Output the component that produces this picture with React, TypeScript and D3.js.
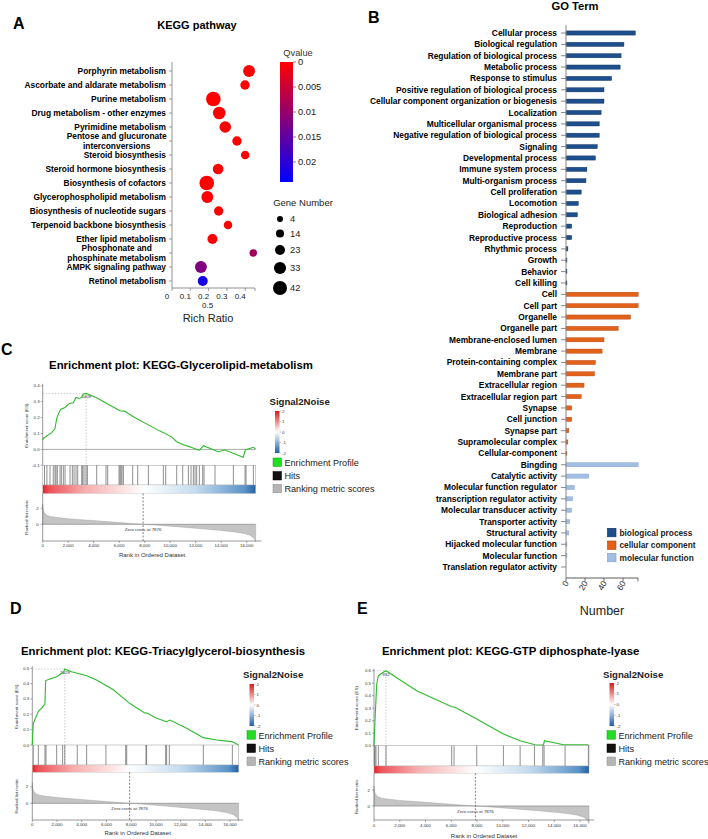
import React from 'react';
import * as d3 from 'd3';

const FONT = "'Liberation Sans', Arial, Helvetica, sans-serif";

/* ---------------- Panel A data ---------------- */
const keggPathways = [
  'Porphyrin metabolism',
  'Ascorbate and aldarate metabolism',
  'Purine metabolism',
  'Drug metabolism - other enzymes',
  'Pyrimidine metabolism',
  'Pentose and glucuronate\ninterconversions',
  'Steroid biosynthesis',
  'Steroid hormone biosynthesis',
  'Biosynthesis of cofactors',
  'Glycerophospholipid metabolism',
  'Biosynthesis of nucleotide sugars',
  'Terpenoid backbone biosynthesis',
  'Ether lipid metabolism',
  'Phosphonate and\nphosphinate metabolism',
  'AMPK signaling pathway',
  'Retinol metabolism',
];
const keggRichRatio = [0.421, 0.399, 0.226, 0.258, 0.291, 0.355, 0.4, 0.252, 0.19, 0.193, 0.255, 0.306, 0.221, 0.444, 0.158, 0.168];
const keggGeneNumber = [32, 20, 45, 35, 30, 20, 16, 26, 45, 32, 20, 16, 23, 11, 32, 23];
const keggQvalue = [0, 0, 0, 0, 0, 0, 0, 0, 0, 0, 0, 0, 0, 0.009, 0.012, 0.022];
const keggXTicks = [0, 0.1, 0.2, 0.3, 0.4];
const keggXTickExtra = 0.5;
const qvalueTicks = [0, 0.005, 0.01, 0.015, 0.02];
const geneLegend = [4, 14, 23, 33, 42];

/* ---------------- Panel B data ---------------- */
const goTerms = [
  'Cellular process', 'Biological regulation', 'Regulation of biological process', 'Metabolic process',
  'Response to stimulus', 'Positive regulation of biological process', 'Cellular component organization or biogenesis',
  'Localization', 'Multicellular organismal process', 'Negative regulation of biological process', 'Signaling',
  'Developmental process', 'Immune system process', 'Multi-organism process', 'Cell proliferation', 'Locomotion',
  'Biological adhesion', 'Reproduction', 'Reproductive process', 'Rhythmic process', 'Growth', 'Behavior', 'Cell killing',
  'Cell', 'Cell part', 'Organelle', 'Organelle part', 'Membrane-enclosed lumen', 'Membrane', 'Protein-containing complex',
  'Membrane part', 'Extracellular region', 'Extracellular region part', 'Synapse', 'Cell junction', 'Synapse part',
  'Supramolecular complex', 'Cellular-component',
  'Bingding', 'Catalytic activity', 'Molecular function regulator', 'transcription regulator activity',
  'Molecular transducer activity', 'Transporter activity', 'Structural activity', 'Hijacked molecular function',
  'Molecular function', 'Translation regulator activity',
];
const goCounts = [
  73, 61, 58, 57, 48, 40, 40, 37, 35, 35, 33, 31, 22, 21, 16, 13, 12, 6, 6, 2, 1, 1, 1,
  76, 76, 68, 55, 40, 38, 31, 30, 19, 16, 6, 6, 3, 2, 1,
  76, 24, 9, 7, 6, 4, 3, 1, 1, 0,
];
const goCategory = [
  0, 0, 0, 0, 0, 0, 0, 0, 0, 0, 0, 0, 0, 0, 0, 0, 0, 0, 0, 0, 0, 0, 0,
  1, 1, 1, 1, 1, 1, 1, 1, 1, 1, 1, 1, 1, 1, 1,
  2, 2, 2, 2, 2, 2, 2, 2, 2, 2,
];
const goCategoryNames = ['biological process', 'cellular component', 'molecular function'];
const goXTicks = [0, 20, 40, 60];

/* ---------------- GSEA data ---------------- */
const rankTicks = [0, 2000, 4000, 6000, 8000, 10000, 12000, 14000, 16000];
const totalRanks = 16700;
const zeroCrossRank = 7876;
const rankedMetric: [number, number][] = [
  [0, 2.5], [30, 2.0], [100, 1.5], [300, 1.15], [600, 0.98], [1000, 0.88], [2000, 0.7], [3000, 0.58],
  [4000, 0.46], [5000, 0.34], [6000, 0.23], [7000, 0.1], [7876, 0], [9000, -0.12], [10000, -0.24],
  [11000, -0.36], [12000, -0.5], [13000, -0.63], [14000, -0.78], [15000, -0.95], [15800, -1.15],
  [16300, -1.4], [16600, -1.8], [16700, -2.2],
];
const esGlycerolipid: [number, number][] = [
  [0, 0.059], [50, 0.069], [310, 0.084], [700, 0.105], [960, 0.13], [1100, 0.195], [1300, 0.237],
  [1410, 0.251], [1750, 0.264], [2090, 0.289], [2400, 0.293], [2610, 0.327], [2870, 0.32], [3060, 0.327],
  [3190, 0.348], [3409, 0.352], [4230, 0.325], [5020, 0.289], [6060, 0.243], [6450, 0.239], [7110, 0.205],
  [8420, 0.148], [9200, 0.115], [10110, 0.079], [10510, 0.048], [10980, 0.031], [11550, 0.016],
  [12080, 0.0], [12300, -0.005], [12600, 0.023], [13770, -0.015], [14300, -0.004], [15730, -0.05],
  [15890, -0.004], [16520, 0.013], [16700, 0.002],
];
const hitsGlycerolipid = [
  140, 330, 574, 830, 966, 1045, 1150, 1359, 1463, 1620, 1751, 2143, 2326, 2457, 2614, 2745, 3058, 3137,
  3241, 3398, 3503, 4235, 4967, 5098, 5987, 6065, 6143, 6222, 6327, 7058, 7451, 8288, 9464, 9647, 10510,
  10980, 11425, 11634, 11817, 11948, 12078, 12288, 12549, 12653, 13516, 14954, 15869, 15948, 16523,
];
const esTriacylglycerol: [number, number][] = [
  [0, 0], [80, 0.14], [490, 0.22], [755, 0.24], [1025, 0.267], [1080, 0.42], [1430, 0.43], [1970, 0.445],
  [2375, 0.467], [2510, 0.47], [2629, 0.495], [3180, 0.478], [4400, 0.452], [5200, 0.424], [6560, 0.36],
  [7900, 0.27], [9120, 0.207], [9250, 0.21], [10060, 0.174], [10870, 0.152], [11140, 0.163],
  [12490, 0.109], [13840, 0.048], [14920, 0.033], [16140, 0.022], [16700, 0],
];
const hitsTriacylglycerol = [
  80, 490, 1025, 1110, 1970, 2455, 2629, 3640, 4400, 5960, 7560, 7640, 9200, 9250, 10790, 10870, 11090,
  13840, 16190,
];
const esGtp: [number, number][] = [
  [0, 0], [78, 0.2], [207, 0.49], [337, 0.56], [596, 0.58], [932, 0.6], [3316, 0.44], [6036, 0.312],
  [6295, 0.307], [7980, 0.213], [10050, 0.093], [11350, 0.04], [12510, 0.008], [13160, 0.005],
  [13240, 0.04], [14720, 0.008], [16600, 0.008], [16700, 0],
];
const hitsGtp = [20, 78, 155, 337, 932, 6036, 6218, 7980, 10050, 11350, 12460, 13110, 13210, 14840, 16650];
const gseaLegendItems = ['Enrichment Profile', 'Hits', 'Ranking metric scores'];
const signalTicks = [2, 1, 0, -1, -2];

/* ---------------- Panel A ---------------- */
function PanelA() {
  const y = d3.scalePoint<string>().domain(keggPathways).range([71, 281]);
  const x = d3.scaleLinear().domain([0, 0.5]).range([172, 263.5]);
  const r = d3.scaleLinear().domain([4, 42]).range([3, 7]);
  const qColor = d3.scaleLinear<string>().domain([0, 0.024]).range(['#ff0000', '#0000ff']).interpolate(d3.interpolateRgb);
  const qY = d3.scaleLinear().domain([0, 0.024]).range([62, 182]);
  const legendY = [219, 233.5, 250, 268, 288];
  return (
    <g>
      <defs>
        <linearGradient id="qgrad" x1="0" y1="0" x2="0" y2="1">
          {d3.range(0, 1.0001, 0.1).map((t) => (
            <stop key={t} offset={t} stopColor={qColor(t * 0.024)} />
          ))}
        </linearGradient>
      </defs>
      <text x={13} y={28.5} fontSize={16} fontWeight="bold">A</text>
      <text x={197} y={28.5} fontSize={11} fontWeight="bold" textAnchor="middle">KEGG pathway</text>
      <line x1={172} x2={172} y1={62} y2={288} stroke="#777" strokeWidth={0.8} />
      {keggPathways.map((p) => {
        const yy = y(p)!;
        const lines = p.split('\n');
        return (
          <g key={p}>
            <line x1={169} x2={172} y1={yy} y2={yy} stroke="#777" strokeWidth={0.7} />
            {lines.length === 1 ? (
              <text x={166} y={yy + 3} fontSize={8.4} fontWeight="bold" textAnchor="end">{p}</text>
            ) : (
              lines.map((l, i) => (
                <text key={l} x={116.7} y={yy - 4.8 + i * 10 + 3} fontSize={8.4} fontWeight="bold" textAnchor="middle">{l}</text>
              ))
            )}
          </g>
        );
      })}
      <line x1={172} x2={255} y1={288} y2={288} stroke="#777" strokeWidth={0.8} />
      {keggXTicks.map((t) => (
        <g key={t}>
          <line x1={x(t)} x2={x(t)} y1={288} y2={291} stroke="#777" strokeWidth={0.7} />
          <text x={x(t) - 5} y={298.5} fontSize={8} textAnchor="middle" fill="#222">{String(t)}</text>
        </g>
      ))}
      <line x1={255} x2={255} y1={288} y2={291} stroke="#777" strokeWidth={0.7} />
      <text x={x(0.2) - 1} y={308} fontSize={8} textAnchor="middle" fill="#222">{String(keggXTickExtra)}</text>
      <text x={208} y={321.5} fontSize={11} textAnchor="middle" fill="#222">Rich Ratio</text>
      {keggPathways.map((p, i) => (
        <circle key={p} cx={x(keggRichRatio[i])} cy={y(p)!} r={r(keggGeneNumber[i])} fill={qColor(keggQvalue[i])} />
      ))}
      {/* colorbar */}
      <text x={298} y={55.5} fontSize={9.3} textAnchor="middle" fill="#333">Qvalue</text>
      <rect x={280} y={62} width={13} height={120} fill="url(#qgrad)" />
      {qvalueTicks.map((t) => (
        <g key={t}>
          <line x1={293} x2={296} y1={qY(t)} y2={qY(t)} stroke="#555" strokeWidth={0.7} />
          <text x={298} y={qY(t) + 3.3} fontSize={9.3} fill="#222">{String(t)}</text>
        </g>
      ))}
      <text x={303} y={206} fontSize={9.5} textAnchor="middle" fill="#222">Gene Number</text>
      {geneLegend.map((g, i) => (
        <g key={g}>
          <circle cx={280} cy={legendY[i]} r={r(g)} fill="#000" />
          <text x={290} y={legendY[i] + 3.3} fontSize={9.3} fill="#222">{String(g)}</text>
        </g>
      ))}
    </g>
  );
}

/* ---------------- Panel B ---------------- */
function PanelB() {
  const y = d3.scalePoint<string>().domain(goTerms).range([33, 567]);
  const x = d3.scaleLinear().domain([0, 60]).range([566, 623]);
  const fills = ['#1d4f8c', '#e2611b', '#a3bee3'];
  const strokes = ['#0d2c5a', '#b0420e', '#7f9fcc'];
  const legY = [528.3, 541, 553.3];
  return (
    <g>
      <text x={368} y={23} fontSize={16} fontWeight="bold">B</text>
      <text x={575} y={9.5} fontSize={11.2} fontWeight="bold" textAnchor="middle">GO Term</text>
      {goTerms.map((t, i) => {
        const yy = y(t)!;
        const c = goCategory[i];
        return (
          <g key={t}>
            <line x1={561} x2={566} y1={yy} y2={yy} stroke="#555" strokeWidth={0.7} />
            <text x={557} y={yy + 3} fontSize={8.4} fontWeight="bold" textAnchor="end">{t}</text>
            {goCounts[i] > 0 && (
              <rect x={x(0)} y={yy - 2.1} width={x(goCounts[i]) - x(0)} height={4.2} fill={fills[c]} stroke={strokes[c]} strokeWidth={0.4} />
            )}
          </g>
        );
      })}
      <line x1={566} x2={566} y1={25} y2={578} stroke="#888" strokeWidth={1} />
      <line x1={566} x2={638} y1={578} y2={578} stroke="#333" strokeWidth={0.8} />
      {goXTicks.map((t) => (
        <g key={t}>
          <line x1={x(t)} x2={x(t)} y1={578} y2={581.5} stroke="#333" strokeWidth={0.7} />
          <text transform={`translate(${x(t) + 3},${583}) rotate(-60)`} fontSize={8.3} textAnchor="end" fill="#222">{String(t)}</text>
        </g>
      ))}
      <line x1={638} x2={638} y1={578} y2={581.5} stroke="#333" strokeWidth={0.7} />
      <text x={602} y={614.5} fontSize={12.5} textAnchor="middle" fill="#222">Number</text>
      {goCategoryNames.map((n, i) => (
        <g key={n}>
          <rect x={607.5} y={legY[i]} width={8.5} height={8.5} fill={fills[i]} stroke={strokes[i]} strokeWidth={0.6} />
          <text x={619.5} y={legY[i] + 7.3} fontSize={8.3} fontWeight="bold" fill="#222">{n}</text>
        </g>
      ))}
    </g>
  );
}

/* ---------------- GSEA panels ---------------- */
type GseaCfg = {
  id: string; letter: string; letterX: number; letterY: number;
  title: string; titleX: number; titleY: number; titleAnchor: 'start' | 'middle';
  x0: number; x16: number; axisEnd: number;
  esDomain: [number, number]; esTop: number; esBottom: number; esTicks: number[];
  hitsBottom: number; gradBottom: number; rankZeroY: number; rankPx: number; rankBottom: number;
  tickLabelY: number; axisTitleY: number; yLabelOffset: number;
  es: [number, number][]; hits: number[];
  legTitleX: number; legTitleY: number; barX: number; barTop: number; barBottom: number;
  sqX: number; sqY: number[]; textX: number;
};

function Gsea({ c }: { c: GseaCfg }) {
  const x = d3.scaleLinear().domain([0, 16000]).range([c.x0, c.x16]);
  const yES = d3.scaleLinear().domain(c.esDomain).range([c.esBottom, c.esTop]);
  const yR = (v: number) => c.rankZeroY - v * c.rankPx;
  const line = d3.line<[number, number]>().x((d) => x(d[0])).y((d) => yES(d[1]));
  const area = d3.area<[number, number]>().x((d) => x(d[0])).y0(c.rankZeroY).y1((d) => yR(d[1]));
  const peak = c.es[d3.maxIndex(c.es, (d) => d[1])];
  const dataEnd = x(totalRanks);
  const fmt = d3.format(',');
  const tiny = 4.4;
  const legColors = ['#22dd22', '#111111', '#b5b5b5'];
  const legStroke = ['#129912', '#000', '#8a8a8a'];
  const sigY = d3.scaleLinear().domain([2, -2]).range([c.barTop, c.barBottom]);
  return (
    <g>
      <defs>
        <linearGradient id={`hg${c.id}`} x1="0" y1="0" x2="1" y2="0">
          <stop offset="0" stopColor="#e0232a" />
          <stop offset="0.03" stopColor="#ec5257" />
          <stop offset="0.2" stopColor="#f6aeae" />
          <stop offset={zeroCrossRank / totalRanks} stopColor="#ffffff" />
          <stop offset="0.72" stopColor="#c4dbee" />
          <stop offset="0.95" stopColor="#5b93c8" />
          <stop offset="1" stopColor="#2461a5" />
        </linearGradient>
        <linearGradient id={`vg${c.id}`} x1="0" y1="0" x2="0" y2="1">
          <stop offset="0" stopColor="#d7191c" />
          <stop offset="0.5" stopColor="#ffffff" />
          <stop offset="1" stopColor="#1f5fa8" />
        </linearGradient>
      </defs>
      <text x={c.letterX} y={c.letterY} fontSize={16} fontWeight="bold">{c.letter}</text>
      <text x={c.titleX} y={c.titleY} fontSize={11.4} fontWeight="bold" textAnchor={c.titleAnchor}>{c.title}</text>

      {/* ES plot */}
      <line x1={c.x0} x2={c.x0} y1={c.esTop - 2} y2={c.esBottom} stroke="#555" strokeWidth={0.6} />
      {c.esTicks.map((t) => (
        <g key={t}>
          <line x1={c.x0 - 2} x2={c.x0} y1={yES(t)} y2={yES(t)} stroke="#555" strokeWidth={0.5} />
          <text x={c.x0 - 3} y={yES(t) + 1.5} fontSize={tiny} textAnchor="end" fill="#333">{t.toFixed(1)}</text>
        </g>
      ))}
      {c.esDomain[0] < 0 && (
        <line x1={c.x0} x2={dataEnd} y1={yES(0)} y2={yES(0)} stroke="#888" strokeWidth={0.7} />
      )}
      <line x1={c.x0} x2={x(peak[0])} y1={yES(peak[1])} y2={yES(peak[1])} stroke="#aaa" strokeWidth={0.6} strokeDasharray="1.5,1.5" />
      <line x1={x(peak[0])} x2={x(peak[0])} y1={yES(peak[1])} y2={c.hitsBottom} stroke="#aaa" strokeWidth={0.6} strokeDasharray="1.5,1.5" />
      <text x={x(peak[0])} y={yES(peak[1]) + 5} fontSize={tiny} textAnchor="middle" fill="#333">{String(peak[0])}</text>
      <text transform={`translate(${c.x0 - c.yLabelOffset},${(c.esTop + c.esBottom) / 2}) rotate(-90)`} fontSize={tiny} textAnchor="middle" fill="#333">Enrichment score (ES)</text>
      <path d={line(c.es)!} fill="none" stroke="#2dbb2d" strokeWidth={1.1} />

      {/* hits */}
      <rect x={c.x0} y={c.esBottom} width={dataEnd - c.x0} height={c.hitsBottom - c.esBottom} fill="none" stroke="#aaa" strokeWidth={0.6} />
      {c.hits.map((h) => (
        <line key={h} x1={x(h)} x2={x(h)} y1={c.esBottom} y2={c.hitsBottom} stroke="#444" strokeWidth={0.6} />
      ))}
      <rect x={c.x0} y={c.hitsBottom} width={dataEnd - c.x0} height={c.gradBottom - c.hitsBottom} fill={`url(#hg${c.id})`} stroke="#bbb" strokeWidth={0.3} />

      {/* ranked list */}
      <path d={area(rankedMetric)!} fill="#c4c4c4" stroke="#999" strokeWidth={0.4} />
      <line x1={c.x0} x2={dataEnd} y1={c.rankZeroY} y2={c.rankZeroY} stroke="#888" strokeWidth={0.5} />
      <line x1={c.x0} x2={c.x0} y1={c.gradBottom} y2={c.rankBottom} stroke="#555" strokeWidth={0.6} />
      {[0, 2].map((t) => (
        <g key={t}>
          <line x1={c.x0 - 2} x2={c.x0} y1={yR(t)} y2={yR(t)} stroke="#555" strokeWidth={0.5} />
          <text x={c.x0 - 4} y={yR(t) + 1.5} fontSize={tiny} textAnchor="end" fill="#333">{String(t)}</text>
        </g>
      ))}
      <text transform={`translate(${c.x0 - c.yLabelOffset},${(c.gradBottom + c.rankBottom) / 2}) rotate(-90)`} fontSize={tiny} textAnchor="middle" fill="#333">Ranked list metric</text>
      <line x1={x(zeroCrossRank)} x2={x(zeroCrossRank)} y1={c.gradBottom} y2={c.rankBottom} stroke="#333" strokeWidth={0.6} strokeDasharray="2,1.5" />
      <text x={x(zeroCrossRank)} y={c.rankZeroY + 6.5} fontSize={tiny} textAnchor="middle" fill="#333">{`Zero cross at ${zeroCrossRank}`}</text>

      {/* bottom axis */}
      <line x1={c.x0} x2={c.axisEnd} y1={c.rankBottom} y2={c.rankBottom} stroke="#555" strokeWidth={0.6} />
      {rankTicks.map((t) => (
        <g key={t}>
          <line x1={x(t)} x2={x(t)} y1={c.rankBottom} y2={c.rankBottom + 2} stroke="#555" strokeWidth={0.5} />
          <text x={x(t)} y={c.tickLabelY} fontSize={tiny} textAnchor="middle" fill="#333">{fmt(t)}</text>
        </g>
      ))}
      <text x={(c.x0 + c.axisEnd) / 2} y={c.axisTitleY} fontSize={6} textAnchor="middle" fill="#333">Rank in Ordered Dataset</text>

      {/* legend */}
      <text x={c.legTitleX} y={c.legTitleY} fontSize={9.6} fontWeight="bold" fill="#222">Signal2Noise</text>
      <rect x={c.barX} y={c.barTop} width={4.5} height={c.barBottom - c.barTop} fill={`url(#vg${c.id})`} />
      {signalTicks.map((t) => (
        <g key={t}>
          <line x1={c.barX + 4.5} x2={c.barX + 6} y1={sigY(t)} y2={sigY(t)} stroke="#555" strokeWidth={0.4} />
          <text x={c.barX + 7} y={sigY(t) + 1.6} fontSize={tiny} fill="#333">{String(t)}</text>
        </g>
      ))}
      {gseaLegendItems.map((n, i) => (
        <g key={n}>
          <rect x={c.sqX} y={c.sqY[i]} width={8.5} height={8.5} fill={legColors[i]} stroke={legStroke[i]} strokeWidth={0.5} />
          <text x={c.textX} y={c.sqY[i] + 7.8} fontSize={9.1} fill="#222">{n}</text>
        </g>
      ))}
    </g>
  );
}

const cfgC: GseaCfg = {
  id: 'C', letter: 'C', letterX: 1, letterY: 354.5,
  title: 'Enrichment plot: KEGG-Glycerolipid-metabolism', titleX: 181, titleY: 368.5, titleAnchor: 'middle',
  x0: 42.7, x16: 246.7, axisEnd: 261.5,
  esDomain: [-0.1, 0.4], esTop: 385.8, esBottom: 465.3, esTicks: [-0.1, 0, 0.1, 0.2, 0.3, 0.4],
  hitsBottom: 485, gradBottom: 493.5, rankZeroY: 524.3, rankPx: 8, rankBottom: 541,
  tickLabelY: 547, axisTitleY: 556.5, yLabelOffset: 15,
  es: esGlycerolipid, hits: hitsGlycerolipid,
  legTitleX: 269.5, legTitleY: 405, barX: 275, barTop: 411, barBottom: 453,
  sqX: 273, sqY: [458, 471.5, 484.3], textX: 284.5,
};
const cfgD: GseaCfg = {
  id: 'D', letter: 'D', letterX: 10, letterY: 614,
  title: 'Enrichment plot: KEGG-Triacylglycerol-biosynthesis', titleX: 21, titleY: 654.5, titleAnchor: 'start',
  x0: 32.3, x16: 230, axisEnd: 243,
  esDomain: [0, 0.5], esTop: 668.3, esBottom: 745, esTicks: [0, 0.1, 0.2, 0.3, 0.4, 0.5],
  hitsBottom: 765, gradBottom: 772.3, rankZeroY: 803.3, rankPx: 8.2, rankBottom: 820,
  tickLabelY: 825.5, axisTitleY: 834.5, yLabelOffset: 14,
  es: esTriacylglycerol, hits: hitsTriacylglycerol,
  legTitleX: 243, legTitleY: 677.5, barX: 249.5, barTop: 684, barBottom: 726,
  sqX: 247, sqY: [730.7, 744, 757], textX: 258.5,
};
const cfgE: GseaCfg = {
  id: 'E', letter: 'E', letterX: 357, letterY: 614,
  title: 'Enrichment plot: KEGG-GTP diphosphate-lyase', titleX: 382, titleY: 655, titleAnchor: 'start',
  x0: 374, x16: 580, axisEnd: 594,
  esDomain: [0, 0.6], esTop: 670.7, esBottom: 745.7, esTicks: [0, 0.1, 0.2, 0.3, 0.4, 0.5, 0.6],
  hitsBottom: 766, gradBottom: 773.3, rankZeroY: 806, rankPx: 8, rankBottom: 820,
  tickLabelY: 827, axisTitleY: 838, yLabelOffset: 16,
  es: esGtp, hits: hitsGtp,
  legTitleX: 603, legTitleY: 677.5, barX: 609.5, barTop: 683, barBottom: 726,
  sqX: 607, sqY: [730.7, 744, 757], textX: 618.5,
};

export default function App() {
  return (
    <svg width={708} height={839} style={{ position: 'absolute', left: 0, top: 0, background: '#fff' }} fontFamily={FONT}>
      <rect width={708} height={839} fill="#fff" />
      <PanelA />
      <PanelB />
      <Gsea c={cfgC} />
      <Gsea c={cfgD} />
      <Gsea c={cfgE} />
    </svg>
  );
}
